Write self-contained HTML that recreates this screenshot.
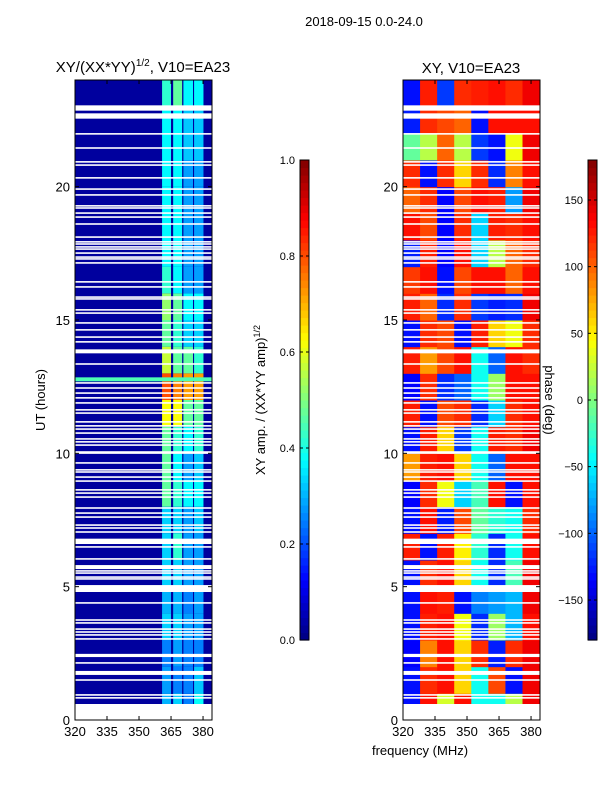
<!DOCTYPE html>
<html><head><meta charset="utf-8"><style>
body{margin:0;background:#fff;}
svg text{font-family:"Liberation Sans",sans-serif;fill:#000;}
</style></head><body>
<svg id="fig" width="600" height="800" xmlns="http://www.w3.org/2000/svg">
<text x="364" y="26" font-size="13" text-anchor="middle">2018-09-15 0.0-24.0</text>
<text x="143" y="72" font-size="15" text-anchor="middle">XY/(XX*YY)<tspan font-size="10" dy="-6">1/2</tspan><tspan dy="6">, V10=EA23</tspan></text>
<text x="471" y="73" font-size="15" text-anchor="middle">XY, V10=EA23</text>
<text transform="translate(45,400) rotate(-90)" font-size="13" text-anchor="middle">UT (hours)</text>
<text x="420" y="755" font-size="13" text-anchor="middle">frequency (MHz)</text>
<text transform="translate(265,400) rotate(-90)" font-size="13" text-anchor="middle">XY amp. / (XX*YY amp)<tspan font-size="9" dy="-5">1/2</tspan></text>
<g id="left"></g>
<g id="right"></g>
<g id="cb1"></g>
<g id="cb2"></g>
<g id="axes"></g>
<text transform="translate(545,400) rotate(90)" font-size="13" text-anchor="middle">phase (deg)</text>
</svg>
<script>
// ---- data ----
const hours = [0,1,2,3,4,5,6,7,8,9,10,11,12,13,14,15,16,17,18,19,20,21,22,23];
const bandEdges = [[360.8,365],[366,370.2],[370.8,375.3],[375.8,380.2]];
const bandAmp = [
[0.3,0.33,0.25,0.38],[0.28,0.25,0.25,0.32],[0.25,0.28,0.25,0.25],[0.33,0.33,0.28,0.28],
[0.3,0.3,0.25,0.28],[0.33,0.33,0.28,0.28],[0.33,0.42,0.28,0.28],[0.33,0.33,0.28,0.32],
[0.47,0.42,0.37,0.37],[0.47,0.37,0.28,0.32],[0.47,0.42,0.37,0.42],[0.62,0.62,0.47,0.47],
[0.8,0.75,0.72,0.72],[0.57,0.47,0.47,0.42],[0.47,0.42,0.33,0.33],[0.52,0.47,0.37,0.37],
[0.42,0.37,0.28,0.28],[0.37,0.37,0.28,0.28],[0.37,0.37,0.28,0.28],[0.37,0.37,0.28,0.28],
[0.37,0.37,0.28,0.28],[0.37,0.37,0.32,0.32],[0.37,0.37,0.32,0.32],[0.42,0.47,0.37,0.37]];
const backgroundAmp = 0.03;
const stripeBand = [12.7,12.85];
const stripeAmp = 0.45;
const phaseCols = [320,328,336,344,352,360,368,376,384.2];
const phase = [
[-130,130,30,130,-40,-40,20,140],[-130,120,130,60,-40,110,-130,140],[-135,90,130,60,120,-125,120,140],
[-130,125,130,40,-120,10,-70,130],[-130,130,125,-130,-90,-80,-70,140],[-130,120,130,60,-40,-120,-20,140],
[125,-130,125,50,-30,-120,-40,130],[-130,130,-125,110,-10,-30,-40,120],[-135,120,40,-60,-20,130,-130,130],
[80,125,130,60,-40,-100,130,130],[-130,125,60,-115,-40,125,120,140],[125,-130,110,120,-120,-60,120,130],
[-135,120,-120,-100,-40,10,130,130],[125,80,110,130,-40,-100,130,120],[-130,120,110,-130,125,60,40,120],
[125,100,-120,120,-115,-125,-120,140],[115,130,-130,110,130,130,100,130],[-125,125,-135,130,-60,20,100,120],
[130,110,-135,120,-60,125,120,130],[100,120,-135,110,130,125,-80,140],[120,-130,120,60,120,-120,90,130],
[-10,20,100,20,-115,-130,40,140],[-125,120,110,100,-130,130,130,130],[-130,125,-115,120,125,130,120,140]];
const thickGaps = [[0,0.6],[1.69,1.84],[2.36,2.48],[4.8,5.06],[5.66,5.81],[6.6,6.8],[9.98,10.08],[13.75,13.9],[22.55,22.75],[22.85,23.05]];
const thinGaps = [0.94,0.83,1.5,2.14,3.04,3.19,3.3,3.41,3.64,3.75,4.39,5.29,5.36,5.51,5.59,6.04,6.49,7.05,7.2,7.31,7.61,7.76,7.95,8.36,8.51,8.63,8.96,9.11,9.3,9.38,9.64,10.31,10.43,10.54,10.76,10.91,11.03,11.18,11.51,11.63,11.89,12.08,12.26,12.45,12.64,13.35,14.18,14.36,14.63,14.89,15.26,15.38,15.79,15.86,16.24,16.43,17.14,17.29,17.36,17.51,17.66,17.74,17.85,17.93,18.11,18.6,18.86,19.01,19.2,19.28,19.69,19.91,20.33,20.81,20.93,21.45,21.98];
const xTicks = [320,335,350,365,380];
const yTicks = [0,5,10,15,20];
const ampTicks = [0,0.2,0.4,0.6,0.8,1.0];
const phaseTicks = [-150,-100,-50,0,50,100,150];

// ---- scales ----
const NS="http://www.w3.org/2000/svg";
const Y0=720, Y1=80, F0=320, F1=384.2, W=137;
const yS=h=>Y0-(h/24)*(Y0-Y1);
const xL=f=>75+(f-F0)/(F1-F0)*W;
const xR=f=>403+(f-F0)/(F1-F0)*W;
function jet(v){v=Math.max(0,Math.min(1,v));
 const c=x=>Math.round(255*Math.max(0,Math.min(1,1.5-Math.abs(4*v-x))));
 return `rgb(${c(3)},${c(2)},${c(1)})`;}
function rect(g,x,y,w,h,fill){const r=document.createElementNS(NS,'rect');
 r.setAttribute('x',x);r.setAttribute('y',y);r.setAttribute('width',w);r.setAttribute('height',h);r.setAttribute('fill',fill);g.appendChild(r);return r;}
function line(g,x1,y1,x2,y2,c,w){const l=document.createElementNS(NS,'line');
 l.setAttribute('x1',x1);l.setAttribute('y1',y1);l.setAttribute('x2',x2);l.setAttribute('y2',y2);l.setAttribute('stroke',c||'#000');l.setAttribute('stroke-width',w||1);g.appendChild(l);}
function text(g,x,y,s,anchor,size){const t=document.createElementNS(NS,'text');
 t.setAttribute('x',x);t.setAttribute('y',y);t.setAttribute('font-size',size||12);t.setAttribute('text-anchor',anchor||'middle');t.textContent=s;g.appendChild(t);return t;}

// left heatmap
const L=document.getElementById('left');
const bg=rect(L,xL(F0),yS(24),W,yS(0)-yS(24),jet(backgroundAmp));


hours.forEach((h,i)=>{
 bandEdges.forEach((b,j)=>{
  const r=rect(L,xL(b[0]),yS(h+1),xL(b[1])-xL(b[0]),yS(h)-yS(h+1),jet(bandAmp[i][j]));
  
  
 });
});
const st=rect(L,xL(F0),yS(stripeBand[1]),W,yS(stripeBand[0])-yS(stripeBand[1]),jet(stripeAmp));


// right heatmap
const R=document.getElementById('right');
hours.forEach((h,i)=>{
 for(let j=0;j<phaseCols.length-1;j++){
  const r=rect(R,xR(phaseCols[j]),yS(h+1),xR(phaseCols[j+1])-xR(phaseCols[j])+0.5,yS(h)-yS(h+1)+0.5,jet((phase[i][j]+180)/360));
  
  
 }
});
// gaps
[L,R].forEach((g,k)=>{
 const x0=k?xR(F0):xL(F0);
 thickGaps.forEach(gp=>{const r=rect(g,x0,yS(gp[1]),W,yS(gp[0])-yS(gp[1]),'#fff');
  
  });
 thinGaps.forEach(t=>{const r=rect(g,x0,yS(t)-0.8,W,1.6,'#fff');
  
  });
});
// axes
const A=document.getElementById('axes');
[[75,xL],[403,xR]].forEach(([x0,xs],k)=>{
 const fr=rect(A,x0,80,W,640,'none');fr.setAttribute('stroke','#000');
 
 
 xTicks.forEach(t=>{const x=xs(t);line(A,x,720,x,716);line(A,x,80,x,84);
  const tt=text(A,x,736,String(t),'middle',13);
  
  });
 yTicks.forEach(t=>{const y=yS(t);line(A,x0,y,x0+4,y);line(A,x0+W,y,x0+W-4,y);
  const tt=text(A,x0-5,y+5,String(t),'end',13);
  
  });
});
// colorbars
function cbar(id,x,ticks,lo,hi){
 const g=document.getElementById(id);const n=64;
 for(let i=0;i<n;i++){const r=rect(g,x,160+480*(1-(i+1)/n),9,480/n+0.6,jet((i+0.5)/n));
  
  }
 const fr=rect(g,x,160,9,480,'none');fr.setAttribute('stroke','#000');
 ticks.forEach(t=>{const y=640-(t-lo)/(hi-lo)*480;line(g,x,y,x+3,y);line(g,x+9,y,x+6,y);
  const tt=text(g,x-5,y+4,id==='cb1'?t.toFixed(1):String(t).replace('-','−'),'end',11);
  
  });
}
cbar('cb1',300,ampTicks,0,1);
cbar('cb2',588,phaseTicks,-180,180);
</script>
</body></html>
